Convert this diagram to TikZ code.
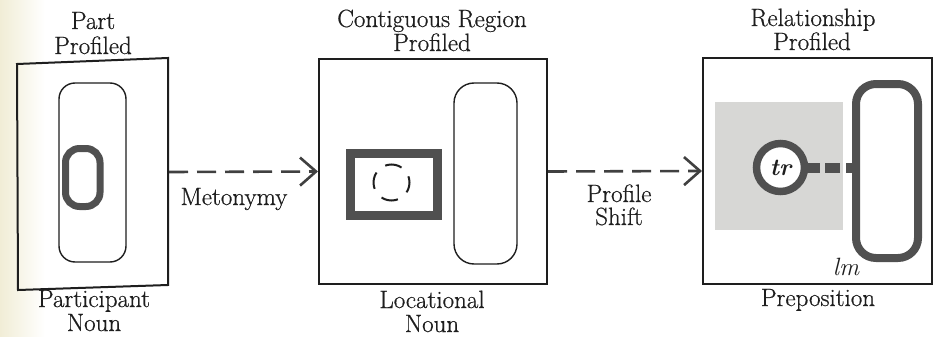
\documentclass[tikz,border=0pt]{standalone}
\usepackage{fontspec}
\newfontfamily\lblfont{Latin Modern Roman}[FakeBold=0.6]
\usetikzlibrary{arrows.meta}
\definecolor{ink}{HTML}{1E1E1E}
\definecolor{heavy}{HTML}{505050}
\definecolor{stipple}{HTML}{D7D7D5}
\definecolor{paper}{HTML}{F1EDD6}
\definecolor{arrowink}{HTML}{404040}

\begin{document}
\begin{tikzpicture}[x=1pt,y=-1pt,
  frame/.style={draw=ink,line width=2pt,rectangle,inner sep=0pt},
  thinround/.style={draw=ink,line width=1.4pt},
  heavyline/.style={draw=heavy},
  lbl/.style={font=\lblfont\fontsize{25}{25}\selectfont,inner sep=0pt,anchor=base,text=ink},
  link/.style={draw=arrowink,line width=2.6pt,dash pattern=on 19pt off 9pt,
    -{Straight Barb[length=16pt,width=28pt]}},
]
% page area
\fill[white] (0,0) rectangle (939,337);
\useasboundingbox (0,0) rectangle (939,337);
\fill[left color=paper,right color=white] (0,0) rectangle (45,337);

% ---- panel 1: part profiled ----
\draw[frame] (17,64) -- (168,58) -- (168,285) -- (18,290) -- cycle;
\coordinate (b1e) at (169,172);
\draw[thinround,rounded corners=16pt] (59,83) rectangle (126,262);
\draw[heavyline,line width=7pt,rounded corners=14pt] (65.5,148.5) rectangle (100,206.5);
\node[lbl] (t1a) at (93,29) {Part};
\node[lbl] (t1b) at (93,54) {Profiled};
\node[lbl] (b1a) at (94,307) {Participant};
\node[lbl] (b1b) at (94,331) {Noun};

% ---- panel 2: contiguous region profiled ----
\node[frame,minimum width=228pt,minimum height=225pt] (box2) at (433,171.5) {};
\draw[thinround,rounded corners=20pt] (454,83) rectangle (517,264);
\draw[heavyline,line width=9pt] (350.5,153) rectangle (437.5,215.5);
\draw[ink,line width=2pt,dash pattern=on 17pt off 11.3pt,dash phase=10.7pt]
  (391.5,182.5) circle[radius=18pt];
\node[lbl] (t2a) at (432,27) {Contiguous Region};
\node[lbl] (t2b) at (432,51) {Profiled};
\node[lbl] (b2a) at (432,308) {Locational};
\node[lbl] (b2b) at (432,332) {Noun};

% ---- panel 3: relationship profiled ----
\node[frame,minimum width=229pt,minimum height=226pt] (box3) at (817.5,171) {};
\fill[stipple] (715,102) rectangle (843,230);
\node[draw=heavy,line width=8pt,rectangle,rounded corners=20pt,
  minimum width=62pt,minimum height=174pt,inner sep=0pt] (lmbox) at (887,171) {};
\node[circle,draw=heavy,fill=white,line width=7.5pt,minimum size=48pt,inner sep=0pt,
  font=\rmfamily\fontsize{24}{25}\selectfont\bfseries\itshape,text=ink] (tr) at (780.5,167.5) {tr};
\draw[heavy,line width=10pt,dash pattern=on 12pt off 5pt on 15pt off 6pt]
  (tr.east) -- (tr.east -| lmbox.west);
\node[lbl,font=\rmfamily\fontsize{25}{25}\selectfont\itshape] (lm) at (846,275) {lm};
\node[lbl] (t3a) at (813,26) {Relationship};
\node[lbl] (t3b) at (812,50) {Profiled};
\node[lbl] (b3a) at (818,306) {Preposition};

% ---- transitions ----
\draw[link] (b1e) -- (box2.west);
\draw[link] (box2.east) -- (box3.west);
\node[lbl] (m1) at (234,205) {Metonymy};
\node[lbl] (m2a) at (619,202) {Profile};
\node[lbl] (m2b) at (619,225) {Shift};
\end{tikzpicture}
\end{document}
